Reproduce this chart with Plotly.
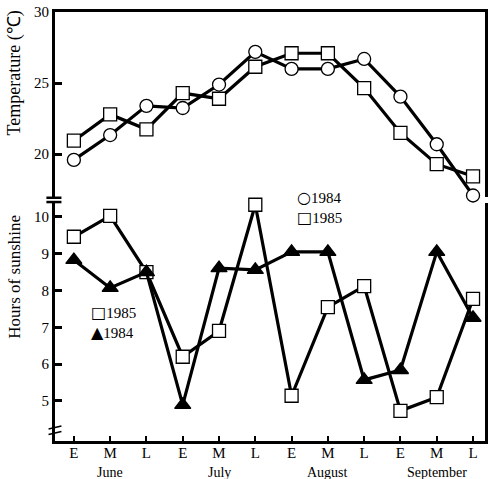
import plotly.graph_objects as go

periods = ["June E", "June M", "June L", "July E", "July M", "July L",
           "August E", "August M", "August L", "September E", "September M", "September L"]
tick_text = ["E", "M", "L"] * 4
months = ["June", "July", "August", "September"]

temp_1984 = [19.6, 21.35, 23.4, 23.25, 24.9, 27.2, 26.0, 26.0, 26.7, 24.05, 20.7, 17.1]
temp_1985 = [20.95, 22.8, 21.75, 24.3, 23.9, 26.15, 27.1, 27.1, 24.65, 21.5, 19.3, 18.45]
sun_1985 = [9.46, 10.03, 8.5, 6.2, 6.9, 10.33, 5.14, 7.55, 8.12, 4.73, 5.1, 7.77]
sun_1984 = [8.83, 8.07, 8.5, 4.89, 8.61, 8.56, 9.05, 9.05, 5.57, 5.84, 9.05, 7.26]

x = list(range(len(periods)))
FONT = "Liberation Serif"

fig = go.Figure()

line = dict(color="black", width=3.2)
def add(y, symbol, yaxis, fill="white"):
    fig.add_trace(go.Scatter(
        x=x, y=y, mode="lines+markers", line=line, yaxis=yaxis,
        xaxis="x" if yaxis == "y" else "x2",
        cliponaxis=False, showlegend=False,
        marker=dict(symbol=symbol, size=13 if symbol != "triangle-up" else 14,
                    color=fill, line=dict(color="black", width=1.3))))

add(temp_1984, "circle", "y")
add(temp_1985, "square", "y")
add(sun_1985, "square", "y2")
add(sun_1984, "triangle-up", "y2", fill="black")

xr = [-0.52, 11.33]
fig.update_layout(
    width=491, height=479,
    margin=dict(l=55, r=3, t=12, b=38),
    paper_bgcolor="white", plot_bgcolor="rgba(0,0,0,0)",
    font=dict(family=FONT, size=14, color="black"),
    xaxis=dict(domain=[0, 1], range=xr, anchor="y", side="top", showline=True,
               linecolor="black", linewidth=3, showticklabels=False, ticks="",
               showgrid=False, zeroline=False),
    xaxis2=dict(domain=[0, 1], range=xr, anchor="y2", showline=True,
                linecolor="black", linewidth=3, tickvals=x, ticktext=tick_text,
                ticks="inside", ticklen=5, tickwidth=2, tickcolor="black",
                ticklabelstandoff=-4,
                showgrid=False, zeroline=False, tickfont=dict(size=15)),
    yaxis=dict(domain=[0.569, 1], range=[17.0, 30.0], tickvals=[20, 25, 30],
               showline=True, mirror=True, linecolor="black", linewidth=3,
               ticks="inside", ticklen=7, tickwidth=3, tickcolor="black",
               showgrid=False, zeroline=False, tickfont=dict(size=15)),
    yaxis2=dict(domain=[0, 0.555], range=[3.91, 10.38], tickvals=[5, 6, 7, 8, 9, 10],
                showline=True, mirror=True, linecolor="black", linewidth=3,
                ticks="inside", ticklen=7, tickwidth=3, tickcolor="black",
                showgrid=False, zeroline=False, tickfont=dict(size=15)),
)

# axis titles
fig.add_annotation(x=-0.094, y=0.858, xref="paper", yref="paper", text="Temperature (℃)",
                   textangle=-90, showarrow=False, xanchor="center", yanchor="middle",
                   font=dict(size=18, family=FONT))
fig.add_annotation(x=-0.094, y=0.382, xref="paper", yref="paper", text="Hours of sunshine",
                   textangle=-90, showarrow=False, xanchor="center", yanchor="middle",
                   font=dict(size=17, family=FONT))

# month labels under E/M/L groups
for i, m in enumerate(months):
    fig.add_annotation(x=3 * i + 1, y=-0.074, xref="x2", yref="paper", text=m,
                       showarrow=False, yanchor="middle", font=dict(size=14, family=FONT))

# legends as text
sym = "<span style='font-family:DejaVu Sans;font-size:16px'>%s</span>"
fig.add_annotation(x=6.1, y=0.545, xref="x", yref="paper", xanchor="left", yanchor="middle",
                   text=(sym % "○") + "1984<br>" + (sym % "□") + "1985",
                   showarrow=False, align="left", font=dict(size=15, family=FONT))
fig.add_annotation(x=0.42, y=0.277, xref="x", yref="paper", xanchor="left", yanchor="middle",
                   text=(sym % "□") + "1985<br>" + (sym % "▲") + "1984",
                   showarrow=False, align="left", font=dict(size=15, family=FONT))

# axis break marks
fig.add_shape(type="line", xref="paper", yref="paper", x0=-0.02, x1=0.015,
              y0=0.567, y1=0.567, line=dict(color="black", width=2.5))
fig.add_shape(type="line", xref="paper", yref="paper", x0=-0.02, x1=0.015,
              y0=0.557, y1=0.557, line=dict(color="black", width=2.5))
fig.add_shape(type="line", xref="paper", yref="paper", x0=-0.015, x1=0.015,
              y0=0.015, y1=0.022, line=dict(color="black", width=1.5))
fig.add_shape(type="line", xref="paper", yref="paper", x0=-0.015, x1=0.015,
              y0=0.028, y1=0.035, line=dict(color="black", width=1.5))

fig.write_html("out.html")
